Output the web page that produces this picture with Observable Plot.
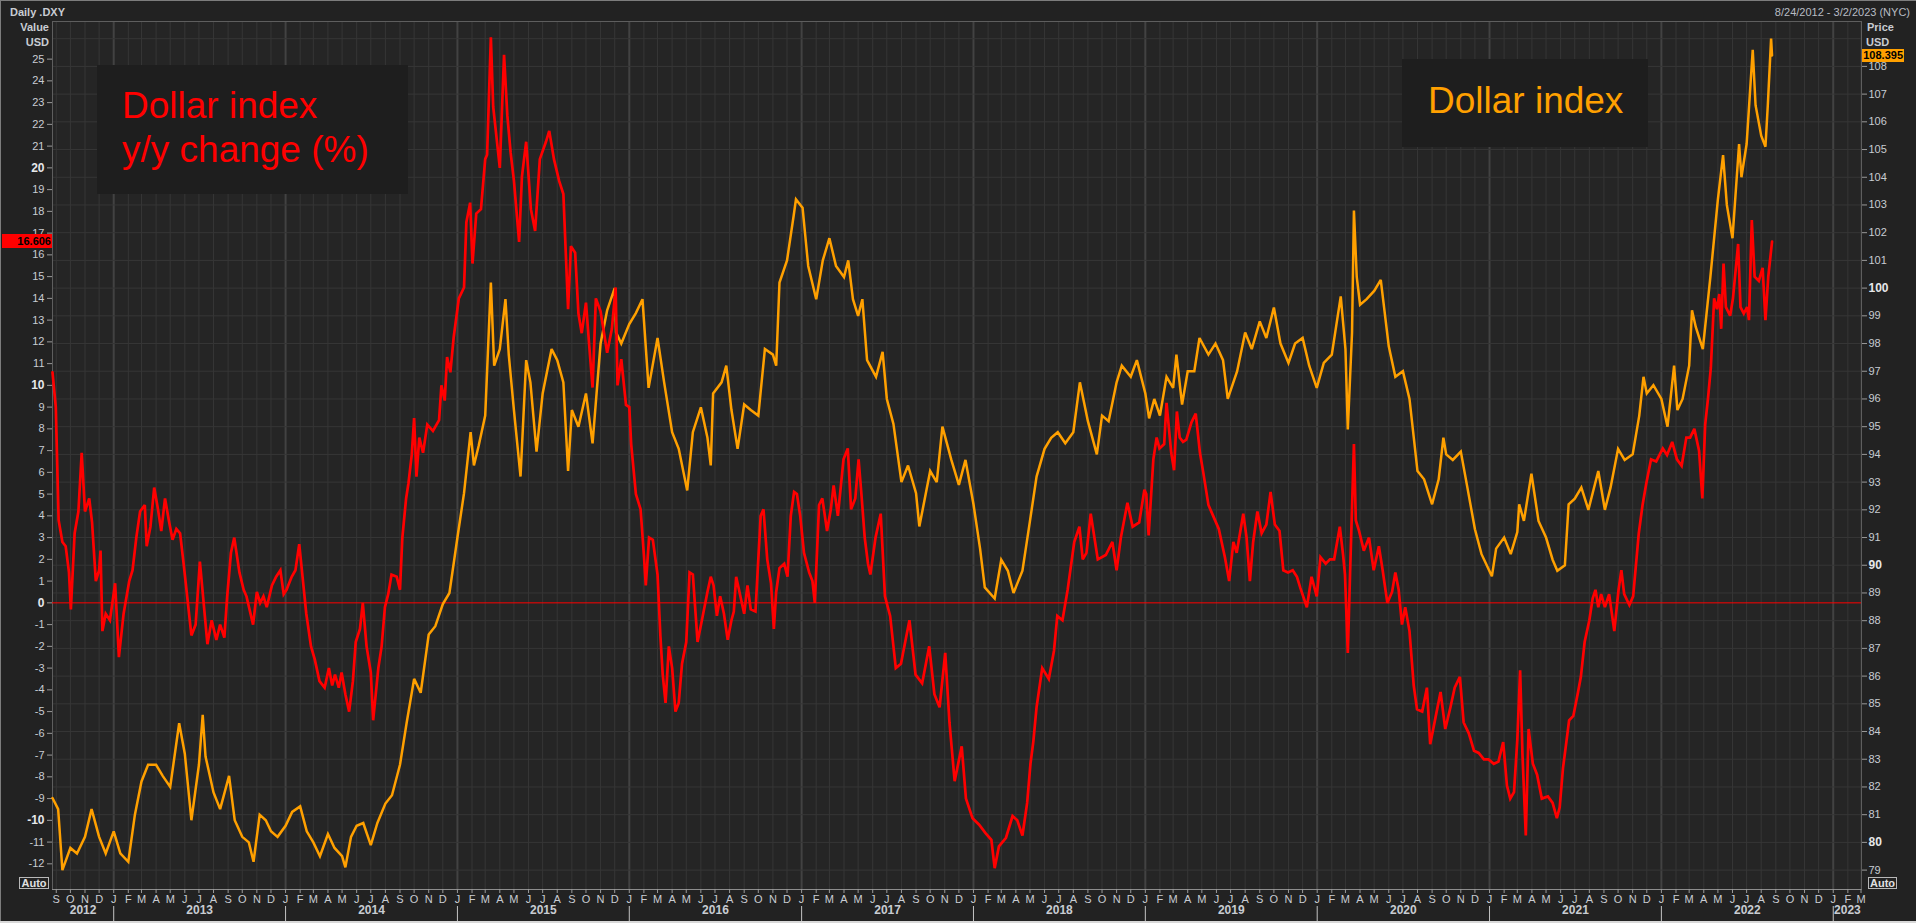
<!DOCTYPE html>
<html>
<head>
<meta charset="utf-8">
<script src="https://cdn.jsdelivr.net/npm/d3@7"></script>
<script src="https://cdn.jsdelivr.net/npm/@observablehq/plot@0.6"></script>
<style>
html, body { margin:0; padding:0; background:#222222; }
#chart { position:relative; width:1916px; height:923px; overflow:hidden; background:#222222; font-family:"Liberation Sans", Arial, sans-serif; }
#chart svg { position:absolute; left:0; top:0; }
.t { position:absolute; white-space:nowrap; color:#c8ccd2; font-size:11px; line-height:12px; }
.b { font-weight:bold; }
.box { position:absolute; background:#1e1e1e; font-size:37px; line-height:44px; white-space:pre; box-sizing:border-box; }
.badge { position:absolute; font-size:11px; font-weight:bold; color:#000; text-align:right; box-sizing:border-box; padding-right:1px; }
.auto { position:absolute; border:1px solid #b8b8b8; color:#e0e0e0; font-size:11px; font-weight:bold; line-height:10px; text-align:center; box-sizing:border-box; }
.line { position:absolute; }
</style>
</head>
<body>
<div id="chart"></div>
<script>
// ---------------- DATA ----------------
const monthLetters = ["J","F","M","A","M","J","J","A","S","O","N","D"];
const years = [2012,2013,2014,2015,2016,2017,2018,2019,2020,2021,2022,2023];
const priceTicks = [79,80,81,82,83,84,85,86,87,88,89,90,91,92,93,94,95,96,97,98,99,100,101,102,103,104,105,106,107,108];
const priceGrid = [79,80,81,82,83,84,85,86,87,88,89,90,91,92,93,94,95,96,97,98,99,100,101,102,103,104,105,106,107,108,109];
const priceBold = [80,90,100];
const yoyTicks = [-12,-11,-10,-9,-8,-7,-6,-5,-4,-3,-2,-1,0,1,2,3,4,5,6,7,8,9,10,11,12,13,14,15,16,17,18,19,20,21,22,23,24,25];
const yoyBold = [-10,0,10,20];

// Dollar index (DXY) price
const priceDates = [
 "2012-08-24","2012-09-05","2012-09-14","2012-10-01","2012-10-15","2012-11-01","2012-11-15","2012-12-01","2012-12-15",
 "2013-01-01","2013-01-15","2013-02-01","2013-02-15","2013-03-01","2013-03-15","2013-04-01","2013-04-15","2013-05-01","2013-05-20","2013-06-01","2013-06-15","2013-07-01","2013-07-09","2013-07-15","2013-08-01","2013-08-15","2013-09-03","2013-09-15","2013-10-01","2013-10-15","2013-10-25","2013-11-07","2013-11-20","2013-12-01","2013-12-15",
 "2014-01-01","2014-01-15","2014-02-01","2014-02-15","2014-03-01","2014-03-15","2014-04-01","2014-04-15","2014-05-01","2014-05-08","2014-05-20","2014-06-01","2014-06-15","2014-07-01","2014-07-15","2014-08-01","2014-08-15","2014-09-01","2014-09-15","2014-10-01","2014-10-15","2014-11-01","2014-11-15","2014-12-01","2014-12-15",
 "2015-01-01","2015-01-15","2015-01-29","2015-02-05","2015-02-15","2015-03-01","2015-03-13","2015-03-20","2015-04-01","2015-04-13","2015-04-20","2015-05-01","2015-05-15","2015-05-27","2015-06-05","2015-06-18","2015-07-01","2015-07-20","2015-08-01","2015-08-14","2015-08-24","2015-09-01","2015-09-15","2015-10-01","2015-10-15","2015-11-01","2015-11-15","2015-12-01","2015-12-04","2015-12-15",
 "2016-01-01","2016-01-15","2016-01-29","2016-02-11","2016-03-01","2016-03-15","2016-04-01","2016-04-15","2016-05-03","2016-05-15","2016-06-01","2016-06-15","2016-06-22","2016-06-27","2016-07-15","2016-07-25","2016-08-05","2016-08-18","2016-09-01","2016-09-15","2016-10-01","2016-10-15","2016-11-01","2016-11-08","2016-11-15","2016-12-01","2016-12-15","2016-12-20",
 "2017-01-03","2017-01-15","2017-02-01","2017-02-15","2017-03-01","2017-03-15","2017-04-01","2017-04-10","2017-04-20","2017-05-01","2017-05-10","2017-05-20","2017-06-08","2017-06-22","2017-07-01","2017-07-15","2017-08-01","2017-08-15","2017-09-01","2017-09-08","2017-09-15","2017-10-01","2017-10-15","2017-10-27","2017-11-15","2017-12-01","2017-12-15",
 "2018-01-01","2018-01-15","2018-01-25","2018-02-15","2018-03-01","2018-03-15","2018-03-27","2018-04-15","2018-05-01","2018-05-15","2018-06-01","2018-06-15","2018-06-29","2018-07-15","2018-08-01","2018-08-15","2018-09-01","2018-09-20","2018-10-01","2018-10-15","2018-11-01","2018-11-12","2018-12-01","2018-12-14",
 "2019-01-01","2019-01-09","2019-01-20","2019-02-01","2019-02-15","2019-03-01","2019-03-08","2019-03-20","2019-04-01","2019-04-15","2019-04-26","2019-05-15","2019-05-30","2019-06-15","2019-06-25","2019-07-15","2019-08-01","2019-08-15","2019-09-01","2019-09-15","2019-10-01","2019-10-15","2019-11-01","2019-11-15","2019-12-01","2019-12-15","2019-12-31",
 "2020-01-15","2020-02-01","2020-02-20","2020-03-01","2020-03-06","2020-03-15","2020-03-19","2020-03-25","2020-04-01","2020-04-15","2020-05-01","2020-05-15","2020-06-01","2020-06-15","2020-07-01","2020-07-15","2020-08-01","2020-08-15","2020-09-01","2020-09-15","2020-09-25","2020-10-01","2020-10-15","2020-11-01","2020-11-15","2020-12-01","2020-12-15",
 "2021-01-06","2021-01-15","2021-02-01","2021-02-15","2021-03-01","2021-03-05","2021-03-15","2021-03-31","2021-04-15","2021-05-01","2021-05-15","2021-05-25","2021-06-10","2021-06-18","2021-07-01","2021-07-15","2021-07-30","2021-08-20","2021-09-03","2021-09-15","2021-10-01","2021-10-15","2021-11-01","2021-11-15","2021-11-24","2021-12-01","2021-12-15",
 "2022-01-01","2022-01-14","2022-01-28","2022-02-04","2022-02-15","2022-03-01","2022-03-07","2022-03-15","2022-03-30","2022-04-15","2022-05-01","2022-05-12","2022-05-20","2022-06-01","2022-06-15","2022-06-20","2022-07-01","2022-07-14","2022-07-20","2022-08-01","2022-08-10","2022-08-15","2022-08-22","2022-08-24"
];
const priceValues = [
 81.6,81.2,79.0,79.8,79.6,80.2,81.2,80.2,79.6,
 80.4,79.6,79.3,81.0,82.2,82.8,82.8,82.4,82.0,84.3,83.2,80.8,82.8,84.6,83.1,81.8,81.2,82.4,80.8,80.2,80.0,79.3,81.0,80.8,80.4,80.2,
 80.6,81.1,81.3,80.4,80.0,79.5,80.3,79.8,79.5,79.1,80.2,80.6,80.7,79.9,80.7,81.4,81.7,82.8,84.3,85.9,85.4,87.5,87.8,88.6,89.0,
 91.0,92.6,94.8,93.6,94.3,95.4,100.2,97.2,97.8,99.6,97.6,95.6,93.2,97.4,96.6,94.1,96.2,97.8,97.4,96.6,93.4,95.6,95.0,96.2,94.4,98.0,99.2,100.0,98.4,98.0,
 98.7,99.1,99.6,96.4,98.2,96.6,94.8,94.2,92.7,94.8,95.7,94.6,93.6,96.2,96.6,97.2,95.6,94.2,95.8,95.6,95.4,97.8,97.6,97.2,100.2,101.0,102.6,103.2,
 102.9,100.8,99.6,101.0,101.8,100.8,100.4,101.0,99.6,99.0,99.6,97.4,96.8,97.7,96.0,95.1,93.0,93.6,92.6,91.4,92.0,93.4,93.0,95.0,93.8,92.9,93.8,
 92.2,90.6,89.2,88.8,90.2,89.8,89.0,89.8,91.6,93.2,94.2,94.6,94.8,94.4,94.8,96.6,95.2,94.0,95.4,95.2,96.6,97.2,96.8,97.4,
 96.2,95.3,96.0,95.4,96.8,96.4,97.6,95.8,97.0,97.0,98.2,97.6,98.0,97.4,96.0,97.0,98.4,97.8,98.8,98.2,99.3,98.0,97.3,98.0,98.2,97.2,96.4,
 97.3,97.6,99.7,97.8,94.9,98.4,102.8,100.4,99.4,99.6,99.9,100.3,97.9,96.8,97.0,96.0,93.4,93.1,92.2,93.1,94.6,94.0,93.8,94.1,92.8,91.3,90.4,
 89.6,90.6,91.0,90.4,91.2,92.2,91.6,93.3,91.6,91.0,90.2,89.8,90.0,92.2,92.4,92.8,92.0,93.4,92.0,92.8,94.2,93.8,94.0,95.4,96.8,96.2,96.5,
 96.0,95.0,97.2,95.6,96.0,97.2,99.2,98.6,97.8,100.4,103.2,104.8,103.0,101.8,105.2,104.0,105.2,108.6,106.6,105.5,105.1,106.6,109.0,108.395
];

// Dollar index y/y change (%)
const yoyDates = [
 "2012-08-24","2012-08-31","2012-09-06","2012-09-14","2012-09-21","2012-09-28","2012-10-02","2012-10-10","2012-10-18","2012-10-25","2012-11-01","2012-11-10","2012-11-16","2012-11-24","2012-12-01","2012-12-04","2012-12-08","2012-12-15","2012-12-24",
 "2013-01-04","2013-01-12","2013-01-22","2013-02-03","2013-02-10","2013-02-18","2013-02-26","2013-03-08","2013-03-12","2013-03-20","2013-03-28","2013-04-05","2013-04-12","2013-04-20","2013-04-28","2013-05-06","2013-05-14","2013-05-22","2013-05-30","2013-06-07","2013-06-15","2013-06-24","2013-07-03","2013-07-19","2013-07-28","2013-08-07","2013-08-15","2013-08-24","2013-08-30","2013-09-07","2013-09-14","2013-09-25","2013-10-04","2013-10-10","2013-10-24","2013-11-01","2013-11-08","2013-11-15","2013-11-22","2013-12-03","2013-12-12","2013-12-21","2013-12-28",
 "2014-01-03","2014-01-14","2014-01-22","2014-01-30","2014-02-07","2014-02-14","2014-02-24","2014-03-04","2014-03-14","2014-03-25","2014-04-03","2014-04-10","2014-04-16","2014-04-24","2014-04-30","2014-05-08","2014-05-16","2014-05-24","2014-05-30","2014-06-08","2014-06-14","2014-06-22","2014-07-01","2014-07-06","2014-07-17","2014-07-24","2014-07-31","2014-08-07","2014-08-14","2014-08-25","2014-09-01","2014-09-06","2014-09-14","2014-09-19","2014-09-26","2014-10-01","2014-10-06","2014-10-12","2014-10-20","2014-10-29","2014-11-10","2014-11-23","2014-11-28","2014-12-05","2014-12-10","2014-12-17","2014-12-24",
 "2015-01-04","2015-01-15","2015-01-20","2015-01-28","2015-02-02","2015-02-10","2015-02-20","2015-03-01","2015-03-05","2015-03-13","2015-03-18","2015-03-25","2015-04-01","2015-04-10","2015-04-17","2015-04-24","2015-05-01","2015-05-12","2015-05-18","2015-05-27","2015-06-06","2015-06-15","2015-06-25","2015-07-08","2015-07-15","2015-07-25","2015-08-05","2015-08-14","2015-08-24","2015-08-30","2015-09-08","2015-09-15","2015-09-22","2015-10-01","2015-10-08","2015-10-15","2015-10-22","2015-11-01","2015-11-15","2015-11-25","2015-12-03","2015-12-07","2015-12-15","2015-12-25",
 "2016-01-01","2016-01-05","2016-01-15","2016-01-25","2016-02-01","2016-02-05","2016-02-12","2016-02-20","2016-03-01","2016-03-07","2016-03-12","2016-03-18","2016-03-25","2016-04-01","2016-04-08","2016-04-15","2016-04-22","2016-05-01","2016-05-08","2016-05-15","2016-05-25","2016-06-05","2016-06-15","2016-06-22","2016-06-28","2016-07-05","2016-07-12","2016-07-20","2016-07-28","2016-08-05","2016-08-10","2016-08-15","2016-08-22","2016-09-01","2016-09-08","2016-09-15","2016-09-25","2016-10-06","2016-10-12","2016-10-20","2016-10-28","2016-11-03","2016-11-08","2016-11-15","2016-11-25","2016-12-02","2016-12-09","2016-12-16","2016-12-22","2016-12-29",
 "2017-01-06","2017-01-17","2017-01-24","2017-01-29","2017-02-07","2017-02-14","2017-02-24","2017-03-04","2017-03-10","2017-03-19","2017-03-31","2017-04-09","2017-04-16","2017-04-25","2017-05-02","2017-05-08","2017-05-15","2017-05-22","2017-05-27","2017-06-07","2017-06-18","2017-06-27","2017-07-08","2017-07-20","2017-07-31","2017-08-18","2017-08-31","2017-09-14","2017-09-29","2017-10-10","2017-10-21","2017-11-02","2017-11-11","2017-11-22","2017-12-07","2017-12-16","2017-12-30",
 "2018-01-13","2018-01-27","2018-02-08","2018-02-15","2018-02-24","2018-03-11","2018-03-25","2018-04-04","2018-04-15","2018-04-25","2018-05-02","2018-05-08","2018-05-15","2018-05-27","2018-06-10","2018-06-21","2018-06-28","2018-07-09","2018-07-20","2018-08-03","2018-08-14","2018-08-21","2018-08-29","2018-09-07","2018-09-22","2018-10-09","2018-10-23","2018-11-01","2018-11-10","2018-11-24","2018-12-05","2018-12-19","2018-12-30",
 "2019-01-03","2019-01-08","2019-01-18","2019-01-25","2019-01-31","2019-02-10","2019-02-15","2019-02-25","2019-03-03","2019-03-09","2019-03-15","2019-03-22","2019-03-29","2019-04-09","2019-04-18","2019-04-27","2019-05-04","2019-05-15","2019-05-25","2019-06-06","2019-06-19","2019-06-28","2019-07-07","2019-07-14","2019-07-28","2019-08-04","2019-08-11","2019-08-18","2019-08-27","2019-09-05","2019-09-15","2019-09-24","2019-10-03","2019-10-13","2019-10-21","2019-10-31","2019-11-10","2019-11-19","2019-11-26","2019-12-10","2019-12-20","2019-12-31",
 "2020-01-08","2020-01-19","2020-01-28","2020-02-06","2020-02-18","2020-02-25","2020-02-29","2020-03-06","2020-03-11","2020-03-19","2020-03-23","2020-03-30","2020-04-09","2020-04-20","2020-04-30","2020-05-11","2020-05-19","2020-05-29","2020-06-08","2020-06-15","2020-06-22","2020-06-29","2020-07-06","2020-07-15","2020-07-24","2020-07-31","2020-08-11","2020-08-21","2020-08-28","2020-09-08","2020-09-19","2020-09-29","2020-10-10","2020-10-19","2020-10-30","2020-11-07","2020-11-18","2020-11-29","2020-12-09","2020-12-20","2020-12-30",
 "2021-01-10","2021-01-20","2021-01-30","2021-02-07","2021-02-14","2021-02-22","2021-03-01","2021-03-07","2021-03-12","2021-03-19","2021-03-25","2021-04-03","2021-04-12","2021-04-22","2021-05-05","2021-05-15","2021-05-24","2021-05-30","2021-06-06","2021-06-12","2021-06-19","2021-06-28","2021-07-08","2021-07-14","2021-07-22","2021-08-01","2021-08-08","2021-08-14","2021-08-20","2021-08-26","2021-09-03","2021-09-12","2021-09-23","2021-10-02","2021-10-08","2021-10-14","2021-10-25","2021-11-02","2021-11-07","2021-11-14","2021-11-22","2021-11-30","2021-12-10","2021-12-21",
 "2022-01-04","2022-01-13","2022-01-24","2022-02-03","2022-02-13","2022-02-23","2022-03-03","2022-03-12","2022-03-22","2022-03-29","2022-04-04","2022-04-10","2022-04-16","2022-04-23","2022-04-29","2022-05-04","2022-05-08","2022-05-13","2022-05-18","2022-05-27","2022-06-02","2022-06-13","2022-06-18","2022-06-25","2022-07-02","2022-07-06","2022-07-12","2022-07-18","2022-07-27","2022-08-04","2022-08-10","2022-08-16","2022-08-24"
];
const yoyValues = [
 10.6,9.0,3.8,2.8,2.6,1.4,-0.3,3.2,4.2,6.9,4.2,4.8,3.7,1.0,1.5,2.4,-1.3,-0.5,-0.8,
 0.9,-2.5,-0.5,1.0,1.5,3.0,4.2,4.5,2.6,3.5,5.3,4.3,3.3,4.8,3.8,2.9,3.4,3.2,1.7,0.1,-1.5,-1.0,1.9,-1.9,-0.8,-1.7,-1.0,-1.6,0.3,2.3,3.0,1.4,0.6,0.3,-1.0,0.5,0.0,0.3,-0.2,0.8,1.2,1.5,0.4,
 0.6,1.2,1.5,2.7,1.0,-0.5,-2.0,-2.6,-3.6,-3.9,-3.0,-3.8,-3.3,-3.9,-3.2,-4.2,-5.0,-3.6,-1.8,-1.2,0.0,-2.0,-3.2,-5.4,-3.0,-2.0,-0.2,0.4,1.3,1.2,0.6,3.0,4.8,5.5,6.8,8.5,5.8,7.6,6.9,8.2,7.9,8.4,10.0,9.3,11.3,10.6,12.2,
 14.0,14.5,17.5,18.4,15.6,17.9,18.1,20.4,20.6,26.0,22.8,21.4,20.0,25.2,22.4,20.7,19.4,16.6,19.6,21.2,18.1,17.1,20.4,21.2,21.7,20.4,19.4,18.8,13.5,16.4,16.1,13.3,12.4,13.8,11.8,9.9,14.0,13.4,11.5,12.6,14.5,10.0,11.2,9.1,
 9.0,7.3,5.0,4.3,2.2,0.8,3.0,2.9,1.3,-1.5,-3.3,-4.6,-2.0,-3.0,-5.0,-4.6,-2.8,-1.8,1.4,1.3,-1.8,-0.6,0.5,1.2,0.8,-0.6,0.3,-0.5,-1.7,-0.8,-0.4,1.2,0.5,-0.5,0.8,-0.3,-0.4,4.0,4.3,2.0,0.9,-1.2,0.5,1.6,1.8,1.2,4.0,5.1,5.0,4.0,
 2.3,1.4,1.0,0.0,4.5,4.8,3.3,4.3,5.4,4.0,6.6,7.1,4.3,4.8,6.6,5.0,3.0,1.8,1.3,3.0,4.1,0.3,-0.6,-3.0,-2.8,-0.8,-3.3,-3.7,-2.0,-4.2,-4.8,-2.3,-5.5,-8.2,-6.6,-9.0,-9.9,
 -10.2,-10.6,-10.9,-12.2,-11.2,-10.8,-9.8,-10.0,-10.7,-9.2,-7.4,-6.4,-4.8,-3.0,-3.5,-2.2,-0.6,-0.8,0.6,2.8,3.5,2.0,2.3,4.1,2.0,2.2,2.8,1.5,3.0,4.6,3.5,3.7,5.2,
 5.0,3.1,6.6,7.6,7.1,7.3,9.2,6.9,6.1,8.8,7.6,7.4,7.5,8.3,8.7,6.9,6.0,4.5,4.0,3.4,2.1,1.0,2.8,2.3,4.1,3.0,1.0,2.8,4.2,3.2,3.6,5.1,3.6,3.3,1.5,1.4,1.5,1.2,0.7,-0.2,1.2,0.3,
 2.1,1.8,2.0,2.0,3.5,2.2,1.3,-2.3,1.5,7.3,3.8,3.3,2.4,3.0,1.5,2.6,1.5,0.0,0.5,1.4,0.6,-1.0,-0.2,-1.3,-3.8,-4.9,-5.0,-3.9,-6.5,-5.3,-4.1,-5.8,-4.8,-3.9,-3.4,-5.5,-6.0,-6.8,-6.9,-7.2,-7.2,
 -7.4,-7.3,-6.4,-8.4,-9.0,-8.7,-6.3,-3.1,-7.0,-10.7,-5.8,-7.4,-7.9,-9.0,-8.9,-9.2,-9.9,-9.4,-7.6,-6.6,-5.4,-5.2,-4.1,-3.4,-1.8,-0.8,0.2,0.6,-0.2,0.4,-0.2,0.4,-1.3,0.6,1.5,0.4,-0.1,0.3,1.5,3.2,4.5,5.5,6.6,6.5,
 7.1,6.8,7.4,6.6,6.3,7.6,7.6,8.0,7.0,4.8,8.2,9.4,10.8,14.0,13.5,14.2,12.6,15.6,13.6,13.2,14.0,16.5,13.6,13.3,13.6,13.0,17.6,15.0,14.8,15.4,13.0,15.0,16.606
];

// ---------------- CHART ----------------
const parse = d3.utcParse("%Y-%m-%d");
const W = 1916, H = 923;
const xDomain = [parse("2012-08-24"), parse("2023-03-02")];
const priceDomain = [78.30, 109.62];
const yoyDomain = [-13.18, 26.73];
const FONT = "'Liberation Sans', Arial, sans-serif";
const AXIS = "#c8ccd2", AXIS_B = "#e6e8ea", TICK = "#9a9a9a";
const PLOT_BG = "#252525", GRID = "#363636", GRID_YEAR = "#424242", FRAME = "#5e5e5e";
const ORANGE = "#ffa000", RED = "#ff0000";

const priceRows = priceDates.map((d, i) => ({date: parse(d), value: priceValues[i]}));
const yoyRows = yoyDates.map((d, i) => ({date: parse(d), value: yoyValues[i]}));
const monthTicks = d3.utcMonth.range(parse("2012-09-01"), xDomain[1]);
const yearTicks = d3.utcYear.range(parse("2013-01-01"), xDomain[1]);
const yearLabels = years.map(y => {
  const a = Math.max(+xDomain[0], Date.UTC(y, 0, 1));
  const b = Math.min(+xDomain[1], Date.UTC(y + 1, 0, 1));
  return {mid: new Date((a + b) / 2), label: String(y)};
});

const layer = (opts) => Plot.plot(Object.assign({
  width: W, height: H,
  marginTop: 21, marginRight: 55, marginBottom: 34, marginLeft: 52,
  style: {background: "transparent", color: AXIS, fontFamily: FONT, fontSize: "11px", overflow: "visible"}
}, opts));

const fmt = d => String(d);

const base = layer({
  x: {type: "utc", domain: xDomain},
  y: {domain: priceDomain},
  marks: [
    Plot.frame({fill: PLOT_BG, stroke: "none"}),
    Plot.gridX({ticks: monthTicks, stroke: GRID, strokeOpacity: 1}),
    Plot.gridX({ticks: yearTicks, stroke: GRID_YEAR, strokeOpacity: 1, strokeWidth: 2}),
    Plot.gridY({ticks: priceGrid, stroke: GRID, strokeOpacity: 1}),
    Plot.frame({stroke: FRAME}),
    Plot.ruleY([priceDomain[0]], {stroke: "#8c8c8c"}),
    Plot.axisX({ticks: monthTicks, tickSize: 4, tickPadding: 2, tickFormat: d => monthLetters[d.getUTCMonth()], label: null, stroke: TICK, fill: AXIS}),
    Plot.axisX({ticks: yearTicks, tickSize: 15, dy: 17, tickFormat: () => "", label: null, stroke: "#c4c4c4"}),
    Plot.text(yearLabels, {x: "mid", text: "label", frameAnchor: "bottom", dy: 24, fill: AXIS, fontWeight: "bold", fontSize: 12}),
    Plot.axisY({anchor: "right", ticks: priceTicks.filter(t => !priceBold.includes(t)), tickSize: 5, tickPadding: 2, tickFormat: fmt, label: null, stroke: TICK, fill: AXIS}),
    Plot.axisY({anchor: "right", ticks: priceBold, tickSize: 5, tickPadding: 2, tickFormat: fmt, label: null, stroke: TICK, fill: AXIS_B, fontWeight: "bold", fontSize: 12})
  ]
});

const yoyAxis = layer({
  x: {type: "utc", domain: xDomain, axis: null},
  y: {domain: yoyDomain},
  marks: [
    Plot.ruleY([0], {stroke: RED, strokeWidth: 1}),
    Plot.axisY({anchor: "left", ticks: yoyTicks.filter(t => !yoyBold.includes(t)), tickSize: 5, tickPadding: 3, tickFormat: fmt, label: null, stroke: TICK, fill: AXIS}),
    Plot.axisY({anchor: "left", ticks: yoyBold, tickSize: 5, tickPadding: 3, tickFormat: fmt, label: null, stroke: TICK, fill: AXIS_B, fontWeight: "bold", fontSize: 12})
  ]
});

const priceLine = layer({
  x: {type: "utc", domain: xDomain, axis: null},
  y: {domain: priceDomain, axis: null},
  marks: [Plot.line(priceRows, {x: "date", y: "value", stroke: ORANGE, strokeWidth: 2.5, strokeLinejoin: "miter", strokeMiterlimit: 3})]
});

const yoyLine = layer({
  x: {type: "utc", domain: xDomain, axis: null},
  y: {domain: yoyDomain, axis: null},
  marks: [Plot.line(yoyRows, {x: "date", y: "value", stroke: RED, strokeWidth: 2.7, strokeLinejoin: "miter", strokeMiterlimit: 3})]
});

const root = document.getElementById("chart");
function div(cls, text, css) {
  const e = document.createElement("div");
  e.className = cls;
  e.textContent = text;
  Object.assign(e.style, css);
  root.appendChild(e);
  return e;
}

root.appendChild(base);
// annotation boxes (above grid, below lines)
div("box", "Dollar index\ny/y change (%)", {left: "97px", top: "65px", width: "311px", height: "129px", paddingTop: "19px", paddingLeft: "25px", color: RED});
div("box", "Dollar index", {left: "1402px", top: "59px", width: "246px", height: "88px", paddingTop: "20px", paddingLeft: "26px", color: ORANGE});
root.appendChild(yoyAxis);
root.appendChild(priceLine);
root.appendChild(yoyLine);

// headers
div("t b", "Daily .DXY", {left: "10px", top: "6px"});
div("t", "8/24/2012 - 3/2/2023 (NYC)", {right: "6px", top: "6px", color: "#b8bcc2"});
div("t b", "Value", {left: "0px", width: "49px", textAlign: "right", top: "21px"});
div("t b", "USD", {left: "0px", width: "49px", textAlign: "right", top: "36px"});
div("t b", "Price", {left: "1867px", top: "21px"});
div("t b", "USD", {left: "1866px", top: "36px"});

// last-value badges positioned with the library's scales
const sYoy = yoyLine.scale("y"), sPrice = priceLine.scale("y");
const lastYoy = yoyValues[yoyValues.length - 1], lastPrice = priceValues[priceValues.length - 1];
const yYoy = sYoy.apply(lastYoy), yPrice = sPrice.apply(lastPrice);
div("badge", lastYoy.toFixed(3), {left: "2px", top: (yYoy - 7) + "px", width: "50px", height: "14px", lineHeight: "14px", background: RED});
div("badge", lastPrice.toFixed(3), {left: "1862px", top: (yPrice - 6) + "px", width: "42px", height: "13px", lineHeight: "13px", background: ORANGE});

// Auto buttons
div("auto", "Auto", {left: "19px", top: "877px", width: "30px", height: "12px"});
div("auto", "Auto", {left: "1868px", top: "877px", width: "29px", height: "12px"});

// window border
div("line", "", {left: "0px", top: "0px", width: "1916px", height: "1px", background: "#7d7d7d"});
div("line", "", {left: "0px", top: "0px", width: "1px", height: "923px", background: "#7d7d7d"});
div("line", "", {left: "0px", top: "921px", width: "1916px", height: "2px", background: "#d8d8d8"});
</script>
</body>
</html>
